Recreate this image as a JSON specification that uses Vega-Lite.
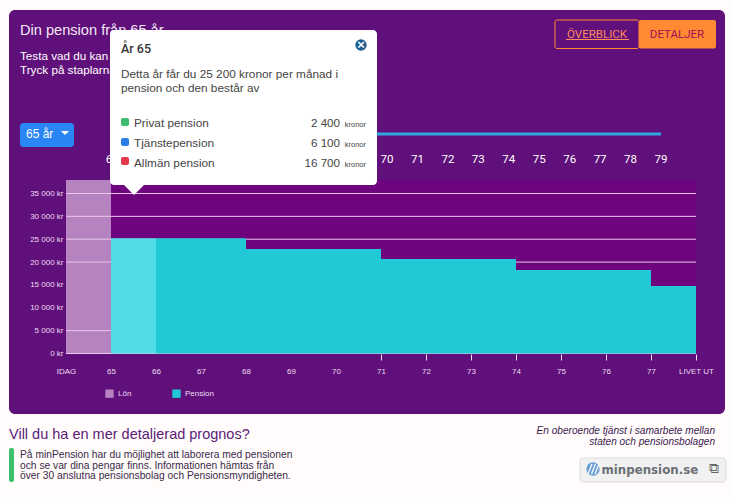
{"$schema":"https://vega.github.io/schema/vega-lite/v6.json","width":732,"height":498,"padding":0,"autosize":{"type":"none"},"background":"#fffcfb","config":{"view":{"stroke":null},"axis":{"title":null},"text":{"baseline":"alphabetic"}},
"datasets":{"one":[{}],
"bars":[{"start":64,"end":65,"kr":37950,"series":"Lön"},
{"start":65,"end":66,"kr":25200,"series":"Pension","selected":true},{"start":66,"end":67,"kr":25200,"series":"Pension"},{"start":67,"end":68,"kr":25200,"series":"Pension"},{"start":68,"end":69,"kr":22860,"series":"Pension"},{"start":69,"end":70,"kr":22860,"series":"Pension"},{"start":70,"end":71,"kr":22860,"series":"Pension"},{"start":71,"end":72,"kr":20670,"series":"Pension"},{"start":72,"end":73,"kr":20670,"series":"Pension"},{"start":73,"end":74,"kr":20670,"series":"Pension"},{"start":74,"end":75,"kr":18270,"series":"Pension"},{"start":75,"end":76,"kr":18270,"series":"Pension"},{"start":76,"end":77,"kr":18270,"series":"Pension"},{"start":77,"end":78,"kr":14770,"series":"Pension"}],
"grid":[{"kr":35000},{"kr":30000},{"kr":25000},{"kr":20000},{"kr":5000},{"kr":0}],
"ages":[{"age":70},{"age":71},{"age":72},{"age":73},{"age":74},{"age":75},{"age":76},{"age":77},{"age":78},{"age":79}]},
"layer":[{"layer":[
{"data":{"name":"one"},"mark":{"type":"rect","fill":"#60107a","cornerRadius":6},"encoding":{"x":{"datum":62.7333,"scale":{"domain":[62.53333,78.8],"nice":false,"zero":false}},"x2":{"datum":78.6444},"y":{"datum":75141,"scale":{"domain":[-31609,77328],"nice":false,"zero":false}},"y2":{"datum":-13234}}},
{"data":{"name":"one"},"mark":{"type":"rect","fill":"#6f047f"},"encoding":{"x":{"datum":64},"x2":{"datum":78},"y":{"datum":37950},"y2":{"datum":0}}},
{"data":{"name":"bars"},"transform":[{"filter":"datum.series==='Lön'"}],"mark":{"type":"rect"},"encoding":{"x":{"field":"start","type":"quantitative"},"x2":{"field":"end"},"y":{"field":"kr","type":"quantitative"},"y2":{"datum":0},"color":{"field":"series","type":"nominal","scale":{"domain":["Lön","Pension"],"range":["#b682bf","#21c9d6"]},"legend":{"orient":"none","legendX":105,"legendY":389,"direction":"horizontal","title":null,"symbolType":"square","symbolSize":70,"symbolStrokeWidth":0,"symbolOpacity":1,"labelFont":"Liberation Sans","labelFontSize":8,"labelColor":"#efdcf2","columnPadding":40,"values":["Lön","Pension"]}}}},
{"data":{"name":"grid"},"mark":{"type":"rule","stroke":"#e9c8ec","strokeWidth":1},"encoding":{"x":{"datum":64},"x2":{"datum":78},"y":{"field":"kr","type":"quantitative","axis":{"values":[0,5000,10000,15000,20000,25000,30000,35000],"offset":-66,"domain":false,"ticks":false,"grid":false,"zindex":1,"labelFont":"Liberation Sans","labelFontSize":8,"labelColor":"#efdcf2","labelPadding":3,"labelExpr":"replace(format(datum.value,',d'),',',' ')+' kr'"}}}},
{"data":{"name":"bars"},"transform":[{"filter":"datum.series==='Pension'"}],"mark":{"type":"rect"},"encoding":{"x":{"field":"start","type":"quantitative","axis":{"values":[64,65,66,67,68,69,70,71,72,73,74,75,76,77,78],"offset":-144,"domain":false,"grid":false,"zindex":1,"tickSize":6,"tickColor":"#efdcf2","tickOpacity":{"condition":{"test":"datum.value>=71","value":1},"value":0},"labelFont":"Liberation Sans","labelFontSize":8,"labelColor":"#efdcf2","labelPadding":11,"labelBaseline":"middle","labelFlush":false,"labelOverlap":false,"labelExpr":"datum.value==64?'IDAG':datum.value==78?'LIVET UT':datum.value"}},"x2":{"field":"end"},"y":{"field":"kr","type":"quantitative"},"y2":{"datum":0},"color":{"condition":{"test":"datum.selected===true","value":"#50dde6"},"field":"series","type":"nominal"}}},
{"data":{"name":"one"},"mark":{"type":"text","text":"Din pension från 65 år","align":"left","font":"Liberation Sans","fontSize":14.6,"fill":"#f3e8f5"},"encoding":{"x":{"datum":62.9778},"y":{"datum":69672}}},
{"data":{"name":"one"},"mark":{"type":"text","text":"Testa vad du kan","align":"left","font":"Liberation Sans","fontSize":11.7,"fill":"#ffffff"},"encoding":{"x":{"datum":62.9778},"y":{"datum":64203}}},
{"data":{"name":"one"},"mark":{"type":"text","text":"Tryck på staplarna","align":"left","font":"Liberation Sans","fontSize":11.7,"fill":"#ffffff"},"encoding":{"x":{"datum":62.9778},"y":{"datum":61140}}},
{"data":{"name":"one"},"mark":{"type":"text","text":"6","align":"center","font":"Roboto","fontSize":11.5,"fill":"#ffffff"},"encoding":{"x":{"datum":64.9556},"y":{"datum":41672}}},
{"data":{"name":"one"},"mark":{"type":"rect","fill":"#2a86f5","cornerRadius":3},"encoding":{"x":{"datum":62.9778},"x2":{"datum":64.1778},"y":{"datum":50422},"y2":{"datum":45172}}},
{"data":{"name":"one"},"mark":{"type":"text","text":"65 år","align":"left","font":"Liberation Sans","fontSize":12,"fill":"#ffffff"},"encoding":{"x":{"datum":63.1111},"y":{"datum":47141}}},
{"data":{"name":"one"},"mark":{"type":"point","shape":"M-0.5,0L0.5,0L0,0.5Z","filled":true,"fill":"#ffffff","opacity":1,"size":256},"encoding":{"x":{"datum":63.9778},"y":{"datum":48672}}},
{"data":{"name":"one"},"mark":{"type":"rule","stroke":"#2fa8e0","strokeWidth":3},"encoding":{"x":{"datum":70.9111},"x2":{"datum":77.2222},"y":{"datum":48016}}},
{"data":{"name":"one"},"mark":{"type":"rect","fill":"#ffffff","cornerRadius":4},"encoding":{"x":{"datum":64.9778},"x2":{"datum":70.9111},"y":{"datum":70766},"y2":{"datum":36859}}},
{"data":{"name":"one"},"mark":{"type":"point","shape":"M-0.5,0L0.5,0L0,0.5Z","filled":true,"fill":"#ffffff","opacity":1,"size":1600},"encoding":{"x":{"datum":65.5111},"y":{"datum":36859}}},
{"data":{"name":"one"},"mark":{"type":"text","text":"År 65","align":"left","font":"Roboto","fontSize":12.5,"fontWeight":500,"fill":"#333333"},"encoding":{"x":{"datum":65.2222},"y":{"datum":65734}}},
{"data":{"name":"one"},"mark":{"type":"point","shape":"circle","filled":true,"fill":"#1f5f8f","opacity":1,"size":130},"encoding":{"x":{"datum":70.5556},"y":{"datum":67484}}},
{"data":{"name":"one"},"mark":{"type":"text","text":"×","align":"center","baseline":"middle","font":"Liberation Sans","fontSize":13,"fontWeight":"bold","fill":"#ffffff"},"encoding":{"x":{"datum":70.5556},"y":{"datum":67484}}},
{"data":{"name":"one"},"mark":{"type":"text","text":"Detta år får du 25 200 kronor per månad i","align":"left","font":"Liberation Sans","fontSize":11.8,"fill":"#444444"},"encoding":{"x":{"datum":65.2222},"y":{"datum":60266}}},
{"data":{"name":"one"},"mark":{"type":"text","text":"pension och den består av","align":"left","font":"Liberation Sans","fontSize":11.8,"fill":"#444444"},"encoding":{"x":{"datum":65.2222},"y":{"datum":57203}}},
{"data":{"name":"one"},"mark":{"type":"rect","fill":"#3ebd6e","cornerRadius":2},"encoding":{"x":{"datum":65.2222},"x2":{"datum":65.4},"y":{"datum":51515},"y2":{"datum":49765}}},
{"data":{"name":"one"},"mark":{"type":"rect","fill":"#2a7fe8","cornerRadius":2},"encoding":{"x":{"datum":65.2222},"x2":{"datum":65.4},"y":{"datum":47141},"y2":{"datum":45390}}},
{"data":{"name":"one"},"mark":{"type":"rect","fill":"#e8394b","cornerRadius":2},"encoding":{"x":{"datum":65.2222},"x2":{"datum":65.4},"y":{"datum":42984},"y2":{"datum":41234}}},
{"data":{"name":"one"},"mark":{"type":"text","text":"Privat pension","align":"left","font":"Liberation Sans","fontSize":11.8,"fill":"#444444"},"encoding":{"x":{"datum":65.5111},"y":{"datum":49547}}},
{"data":{"name":"one"},"mark":{"type":"text","text":"Tjänstepension","align":"left","font":"Liberation Sans","fontSize":11.8,"fill":"#444444"},"encoding":{"x":{"datum":65.5111},"y":{"datum":45172}}},
{"data":{"name":"one"},"mark":{"type":"text","text":"Allmän pension","align":"left","font":"Liberation Sans","fontSize":11.8,"fill":"#444444"},"encoding":{"x":{"datum":65.5111},"y":{"datum":40797}}},
{"data":{"name":"one"},"mark":{"type":"text","text":"2 400","align":"right","font":"Liberation Sans","fontSize":11.6,"fill":"#444444"},"encoding":{"x":{"datum":70.0889},"y":{"datum":49547}}},
{"data":{"name":"one"},"mark":{"type":"text","text":"6 100","align":"right","font":"Liberation Sans","fontSize":11.6,"fill":"#444444"},"encoding":{"x":{"datum":70.0889},"y":{"datum":45172}}},
{"data":{"name":"one"},"mark":{"type":"text","text":"16 700","align":"right","font":"Liberation Sans","fontSize":11.6,"fill":"#444444"},"encoding":{"x":{"datum":70.0889},"y":{"datum":40797}}},
{"data":{"name":"one"},"mark":{"type":"text","text":"kronor","align":"right","font":"Liberation Sans","fontSize":7.5,"fill":"#444444"},"encoding":{"x":{"datum":70.6667},"y":{"datum":49547}}},
{"data":{"name":"one"},"mark":{"type":"text","text":"kronor","align":"right","font":"Liberation Sans","fontSize":7.5,"fill":"#444444"},"encoding":{"x":{"datum":70.6667},"y":{"datum":45172}}},
{"data":{"name":"one"},"mark":{"type":"text","text":"kronor","align":"right","font":"Liberation Sans","fontSize":7.5,"fill":"#444444"},"encoding":{"x":{"datum":70.6667},"y":{"datum":40797}}},
{"data":{"name":"one"},"mark":{"type":"rect","fill":"#60107a","stroke":"#ff8a33","strokeWidth":1,"cornerRadius":2},"encoding":{"x":{"datum":74.8667},"x2":{"datum":76.7333},"y":{"datum":72953},"y2":{"datum":66719}}},
{"data":{"name":"one"},"mark":{"type":"rect","fill":"#ff8a33","cornerRadius":2},"encoding":{"x":{"datum":76.7333},"x2":{"datum":78.4444},"y":{"datum":72953},"y2":{"datum":66719}}},
{"data":{"name":"one"},"mark":{"type":"text","text":"ÖVERBLICK","align":"center","font":"Roboto","fontSize":11.5,"fill":"#ff8a5a"},"encoding":{"x":{"datum":75.8},"y":{"datum":69015}}},
{"data":{"name":"one"},"mark":{"type":"rule","stroke":"#ff8a5a","strokeWidth":1},"encoding":{"x":{"datum":75.1111},"x2":{"datum":76.5111},"y":{"datum":68687}}},
{"data":{"name":"one"},"mark":{"type":"text","text":"DETALJER","align":"center","font":"Roboto","fontSize":11.5,"fill":"#a01055"},"encoding":{"x":{"datum":77.5778},"y":{"datum":69015}}},
{"data":{"name":"one"},"mark":{"type":"text","text":"Vill du ha en mer detaljerad prognos?","align":"left","font":"Liberation Sans","fontSize":14.5,"fill":"#5b1a78"},"encoding":{"x":{"datum":62.7333},"y":{"datum":-18703}}},
{"data":{"name":"one"},"mark":{"type":"rect","fill":"#3cc06c","cornerRadius":2},"encoding":{"x":{"datum":62.7333},"x2":{"datum":62.8444},"y":{"datum":-20672},"y2":{"datum":-28107}}},
{"data":{"name":"one"},"mark":{"type":"text","text":"På minPension har du möjlighet att laborera med pensionen","align":"left","font":"Liberation Sans","fontSize":10.25,"fill":"#3b2a4a"},"encoding":{"x":{"datum":62.9778},"y":{"datum":-22860}}},
{"data":{"name":"one"},"mark":{"type":"text","text":"och se var dina pengar finns. Informationen hämtas från","align":"left","font":"Liberation Sans","fontSize":10.25,"fill":"#3b2a4a"},"encoding":{"x":{"datum":62.9778},"y":{"datum":-25266}}},
{"data":{"name":"one"},"mark":{"type":"text","text":"över 30 anslutna pensionsbolag och Pensionsmyndigheten.","align":"left","font":"Liberation Sans","fontSize":10.25,"fill":"#3b2a4a"},"encoding":{"x":{"datum":62.9778},"y":{"datum":-27453}}},
{"data":{"name":"one"},"mark":{"type":"text","text":"En oberoende tjänst i samarbete mellan","align":"right","font":"Liberation Sans","fontSize":10.1,"fontStyle":"italic","fill":"#3b1a50"},"encoding":{"x":{"datum":78.4222},"y":{"datum":-17609}}},
{"data":{"name":"one"},"mark":{"type":"text","text":"staten och pensionsbolagen","align":"right","font":"Liberation Sans","fontSize":10.1,"fontStyle":"italic","fill":"#3b1a50"},"encoding":{"x":{"datum":78.4222},"y":{"datum":-20016}}},
{"data":{"name":"one"},"mark":{"type":"rect","fill":"#f1f1f1","stroke":"#dddddd","strokeWidth":1,"cornerRadius":3},"encoding":{"x":{"datum":75.4222},"x2":{"datum":78.6667},"y":{"datum":-22860},"y2":{"datum":-28107}}},
{"data":{"name":"one"},"mark":{"type":"point","shape":"circle","filled":true,"fill":"#6a9fd8","opacity":1,"size":176},"encoding":{"x":{"datum":75.7111},"y":{"datum":-25266}}},
{"data":{"name":"one"},"mark":{"type":"rule","stroke":"#ffffff","strokeWidth":1.2},"encoding":{"x":{"datum":75.6},"x2":{"datum":75.6889},"y":{"datum":-26360},"y2":{"datum":-24172}}},
{"data":{"name":"one"},"mark":{"type":"rule","stroke":"#ffffff","strokeWidth":1.2},"encoding":{"x":{"datum":75.6778},"x2":{"datum":75.7667},"y":{"datum":-26360},"y2":{"datum":-24172}}},
{"data":{"name":"one"},"mark":{"type":"rule","stroke":"#ffffff","strokeWidth":1.2},"encoding":{"x":{"datum":75.7556},"x2":{"datum":75.8444},"y":{"datum":-26360},"y2":{"datum":-24172}}},
{"data":{"name":"one"},"mark":{"type":"text","text":"minpension.se","align":"left","font":"DejaVu Sans","fontSize":11.8,"fontWeight":"bold","fill":"#6b7076"},"encoding":{"x":{"datum":75.9},"y":{"datum":-26360}}},
{"data":{"name":"one"},"mark":{"type":"text","text":"⧉","align":"center","baseline":"middle","font":"DejaVu Sans","fontSize":14,"fill":"#666666"},"encoding":{"x":{"datum":78.4},"y":{"datum":-25266}}}
]},
{"data":{"name":"ages"},"mark":{"type":"text","align":"center","font":"Roboto","fontSize":11.5,"fill":"#ffffff"},"encoding":{"x":{"field":"age","type":"quantitative","axis":null,"scale":{"domain":[70,79],"range":[387,661],"nice":false,"zero":false}},"y":{"datum":41672},"text":{"field":"age","type":"quantitative"}}}
],"resolve":{"scale":{"x":"independent"}}}
